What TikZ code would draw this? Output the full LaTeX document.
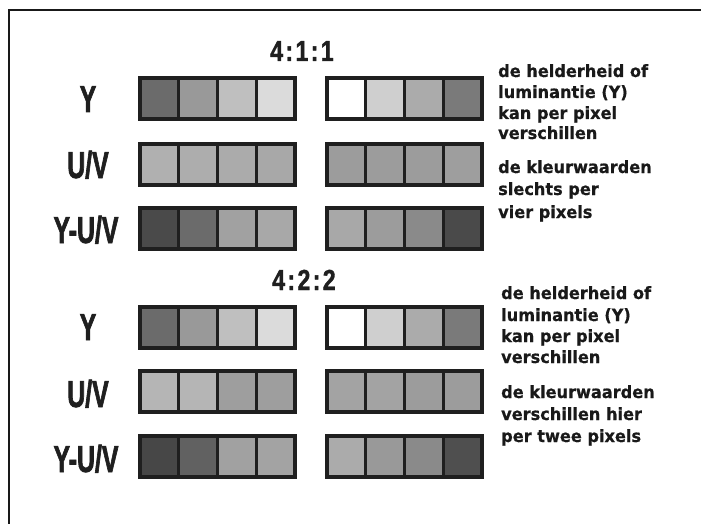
\documentclass[tikz,border=0pt]{standalone}
\usepackage{fontspec}
\newfontfamily\labfont{Liberation Sans Bold}[FakeStretch=0.66, FakeBold=1.6]
\newfontfamily\titfont{Liberation Sans Bold}[FakeStretch=0.80, FakeBold=1.2, LetterSpace=8]
\newfontfamily\descfont{DejaVu Sans Bold}[FakeStretch=0.95, FakeBold=0.6]
\tikzset{
  barline/.style={draw=black!88, line width=3.5pt},
  divline/.style={draw=black!88, line width=3pt},
  lab/.style={font=\labfont\fontsize{37.7}{40}\selectfont, text=black!88, inner sep=0pt, anchor=base},
  ttl/.style={font=\titfont\fontsize{29}{32}\selectfont, text=black!88, inner sep=0pt, anchor=base},
  desc/.style={font=\descfont\fontsize{17}{20}\selectfont, text=black!90, inner sep=0pt, anchor=base west},
}
\newcommand\pixbar[6]{%
  \foreach \c [count=\i from 0] in {#3,#4,#5,#6}{
    \fill[fill=\c] ({#1+\i*38.75},#2) rectangle ++(38.75,41);
  }
  \draw[barline] (#1,#2) rectangle ++(155,41);
  \foreach \i in {1,2,3}{\draw[divline] ({#1+\i*38.75},#2) -- ++(0,41);}
}
\begin{document}
\begin{tikzpicture}[x=1pt,y=-1pt]
\fill[white] (0,0) rectangle (701,524);
\useasboundingbox (0,0) rectangle (701,524);
% frame
\draw[line width=2pt, black!90] (9,524) -- (9,10) -- (701,10);

% ---- 4:1:1 ----
\node[ttl] (t411) at (302,61) {4:1:1};
\node[lab] (ya) at (88,112) {Y};
\node[lab] (uva) at (88,178) {U/V};
\node[lab] (yuva) at (86,243) {Y-U/V};
\pixbar{140}{78}{black!58}{black!40}{black!25}{black!14}
\pixbar{327}{78}{white}{black!19}{black!33}{black!52}
\pixbar{140}{144}{black!31}{black!32}{black!33}{black!34}
\pixbar{327}{144}{black!39}{black!39}{black!39}{black!38}
\pixbar{140}{208}{black!71}{black!58}{black!37}{black!34}
\pixbar{327}{208}{black!34}{black!39}{black!46}{black!71}
\foreach \t/\yy [count=\i] in {de helderheid of/77, luminantie (Y)/98, kan per pixel/119, verschillen/139,
  de kleurwaarden/173, slechts per/195, vier pixels/218}
  \node[desc] (da\i) at (498,\yy) {\t};

% ---- 4:2:2 ----
\node[ttl] (t422) at (304,290) {4:2:2};
\node[lab] (yb) at (88,340) {Y};
\node[lab] (uvb) at (88,407) {U/V};
\node[lab] (yuvb) at (86,472) {Y-U/V};
\pixbar{140}{307}{black!58}{black!40}{black!25}{black!14}
\pixbar{327}{307}{white}{black!19}{black!33}{black!52}
\pixbar{140}{371}{black!29}{black!29}{black!38}{black!38}
\pixbar{327}{371}{black!36}{black!36}{black!39}{black!39}
\pixbar{140}{436}{black!72}{black!62}{black!37}{black!36}
\pixbar{327}{436}{black!33}{black!40}{black!46}{black!69}
\foreach \t/\yy [count=\i] in {de helderheid of/299, luminantie (Y)/321, kan per pixel/342, verschillen/363,
  de kleurwaarden/398, verschillen hier/420, per twee pixels/442}
  \node[desc] (db\i) at (501,\yy) {\t};
\end{tikzpicture}
\end{document}
